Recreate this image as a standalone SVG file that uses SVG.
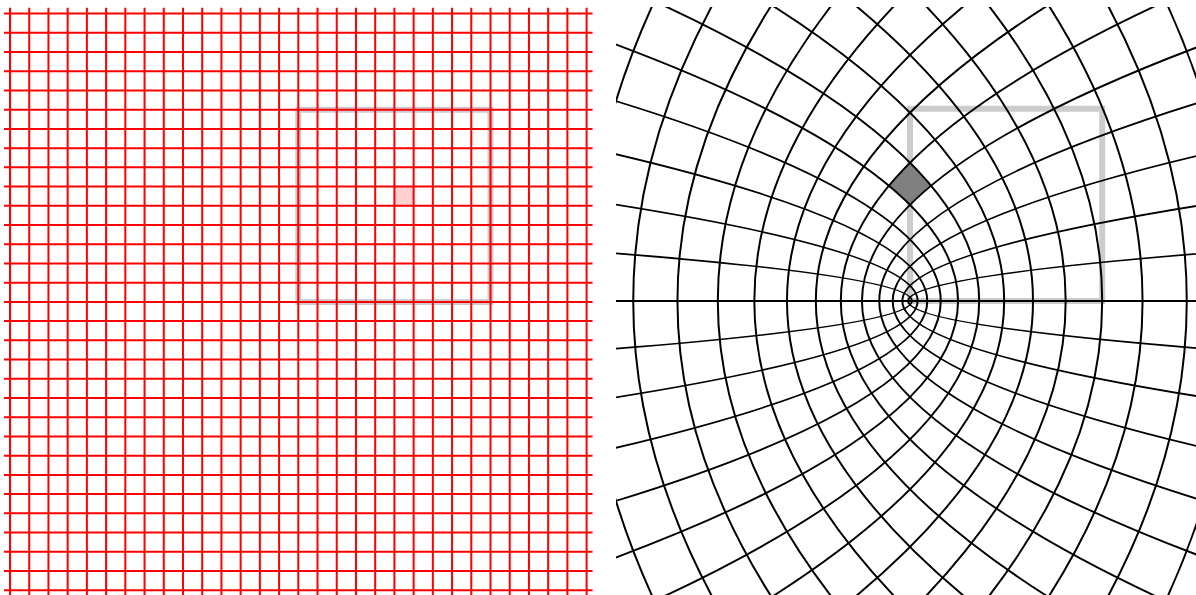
<svg xmlns="http://www.w3.org/2000/svg" width="1196" height="595" viewBox="0 0 1196 595">
  <style>
    .red { fill: none; stroke: #ff0000; stroke-width: 2; vector-effect: non-scaling-stroke; }
    .blk { fill: none; stroke: #000000; stroke-width: 2; vector-effect: non-scaling-stroke; }
    .sq { fill: none; stroke: #cccccc; stroke-width: 6; vector-effect: non-scaling-stroke; }
    .pink { fill: #ffd0d0; stroke: none; }
    .dark { fill: #808080; stroke: none; }
  </style>
  <defs>
    <clipPath id="clipR">
      <rect x="616" y="7" width="588" height="588"/>
    </clipPath>
  </defs>
  <rect x="0" y="0" width="1196" height="595" fill="#ffffff"/>
  <g id="panel-left" transform="translate(298.3,301.9) scale(192.2,-192.2)">
    <rect id="cell-z" class="pink" x="0.5" y="0.5" width="0.1" height="0.1"/>
    <rect id="square-z" class="sq" x="0" y="0" width="1" height="1"/>
    <path id="grid-z" class="red" d="M-1.5,-1.531V1.531M-1.4,-1.531V1.531M-1.3,-1.531V1.531M-1.2,-1.531V1.531M-1.1,-1.531V1.531M-1,-1.531V1.531M-0.9,-1.531V1.531M-0.8,-1.531V1.531M-0.7,-1.531V1.531M-0.6,-1.531V1.531M-0.5,-1.531V1.531M-0.4,-1.531V1.531M-0.3,-1.531V1.531M-0.2,-1.531V1.531M-0.1,-1.531V1.531M0,-1.531V1.531M0.1,-1.531V1.531M0.2,-1.531V1.531M0.3,-1.531V1.531M0.4,-1.531V1.531M0.5,-1.531V1.531M0.6,-1.531V1.531M0.7,-1.531V1.531M0.8,-1.531V1.531M0.9,-1.531V1.531M1,-1.531V1.531M1.1,-1.531V1.531M1.2,-1.531V1.531M1.3,-1.531V1.531M1.4,-1.531V1.531M1.5,-1.531V1.531M-1.531,-1.5H1.531M-1.531,-1.4H1.531M-1.531,-1.3H1.531M-1.531,-1.2H1.531M-1.531,-1.1H1.531M-1.531,-1H1.531M-1.531,-0.9H1.531M-1.531,-0.8H1.531M-1.531,-0.7H1.531M-1.531,-0.6H1.531M-1.531,-0.5H1.531M-1.531,-0.4H1.531M-1.531,-0.3H1.531M-1.531,-0.2H1.531M-1.531,-0.1H1.531M-1.531,0H1.531M-1.531,0.1H1.531M-1.531,0.2H1.531M-1.531,0.3H1.531M-1.531,0.4H1.531M-1.531,0.5H1.531M-1.531,0.6H1.531M-1.531,0.7H1.531M-1.531,0.8H1.531M-1.531,0.9H1.531M-1.531,1H1.531M-1.531,1.1H1.531M-1.531,1.2H1.531M-1.531,1.3H1.531M-1.531,1.4H1.531M-1.531,1.5H1.531"/>
  </g>
  <g id="panel-right" clip-path="url(#clipR)">
    <g transform="translate(910,301) scale(192.2,-192.2)">
      <rect id="square-w" class="sq" x="0" y="0" width="1" height="1"/>
      <path id="cell-w" class="dark" d="M0,0.5Q0.05,0.55 0.11,0.6Q0.06,0.66 0,0.72Q-0.06,0.66 -0.11,0.6Q-0.05,0.55 0,0.5Z"/>
      <path id="parabolas-right" class="blk" d="M3.99,-0.4Q-4.01,0 3.99,0.4M3.96,-0.8Q-4.04,0 3.96,0.8M3.91,-1.2Q-4.09,0 3.91,1.2M3.84,-1.6Q-4.16,0 3.84,1.6M3.75,-2Q-4.25,0 3.75,2M3.64,-2.4Q-4.36,0 3.64,2.4M3.51,-2.8Q-4.49,0 3.51,2.8M3.36,-3.2Q-4.64,0 3.36,3.2M3.19,-3.6Q-4.81,0 3.19,3.6M3,-4Q-5,0 3,4M2.79,-4.4Q-5.21,0 2.79,4.4M2.56,-4.8Q-5.44,0 2.56,4.8M2.31,-5.2Q-5.690,0 2.31,5.2M2.04,-5.6Q-5.96,0 2.04,5.6M1.75,-6Q-6.25,0 1.75,6"/>
      <path id="parabolas-left" class="blk" d="M-3.99,-0.4Q4.01,0 -3.99,0.4M-3.96,-0.8Q4.04,0 -3.96,0.8M-3.91,-1.2Q4.09,0 -3.91,1.2M-3.84,-1.6Q4.16,0 -3.84,1.6M-3.75,-2Q4.25,0 -3.75,2M-3.64,-2.4Q4.36,0 -3.64,2.4M-3.51,-2.8Q4.49,0 -3.51,2.8M-3.36,-3.2Q4.64,0 -3.36,3.2M-3.19,-3.6Q4.81,0 -3.19,3.6M-3,-4Q5,0 -3,4M-2.79,-4.4Q5.21,0 -2.79,4.4M-2.56,-4.8Q5.44,0 -2.56,4.8M-2.31,-5.2Q5.69,0 -2.31,5.2M-2.04,-5.6Q5.96,0 -2.04,5.6M-1.75,-6Q6.25,0 -1.75,6"/>
      <path id="axis" class="blk" d="M-2,0H2"/>
    </g>
  </g>
</svg>
